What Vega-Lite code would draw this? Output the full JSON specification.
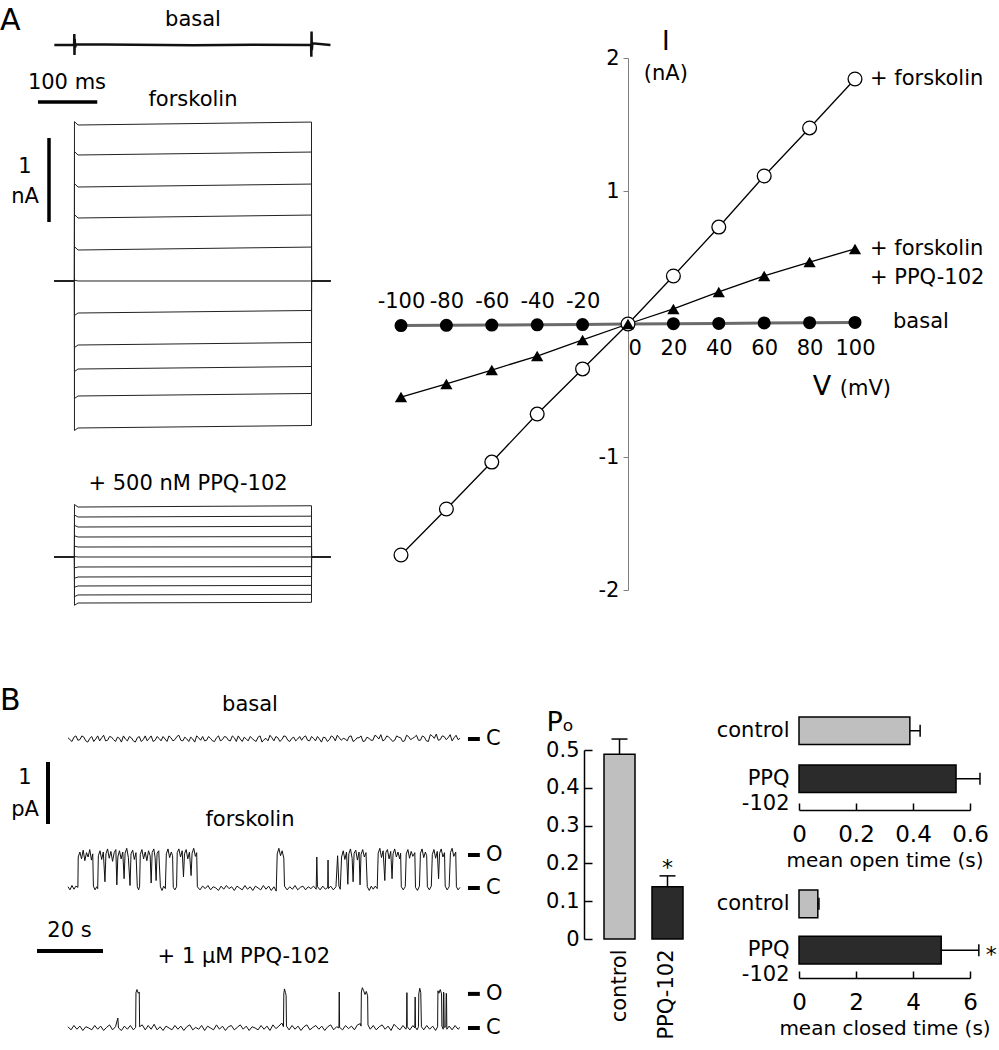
{
"$schema":"https://vega.github.io/schema/vega-lite/v6.json",
"padding":0,
"background":"white",
"spacing":65,
"config":{
 "view":{"stroke":null},
 "font":"DejaVu Sans",
 "text":{"fontSize":21,"color":"black"},
 "axis":{"labelFont":"DejaVu Sans","titleFont":"DejaVu Sans","labelColor":"black","titleColor":"black","titleFontWeight":"normal","labelFlush":false,"labelOverlap":false,"grid":false}
},
"datasets":{
 "iv":[
  {"s":"basal","v":-100,"i":-0.012},{"s":"basal","v":-80,"i":-0.01},{"s":"basal","v":-60,"i":-0.008},{"s":"basal","v":-40,"i":-0.006},{"s":"basal","v":-20,"i":-0.004},{"s":"basal","v":0,"i":0},{"s":"basal","v":20,"i":0.002},{"s":"basal","v":40,"i":0.004},{"s":"basal","v":60,"i":0.008},{"s":"basal","v":80,"i":0.01},{"s":"basal","v":100,"i":0.012},
  {"s":"forsk","v":-100,"i":-1.737},{"s":"forsk","v":-80,"i":-1.391},{"s":"forsk","v":-60,"i":-1.038},{"s":"forsk","v":-40,"i":-0.677},{"s":"forsk","v":-20,"i":-0.338},{"s":"forsk","v":0,"i":0},{"s":"forsk","v":20,"i":0.361},{"s":"forsk","v":40,"i":0.729},{"s":"forsk","v":60,"i":1.113},{"s":"forsk","v":80,"i":1.474},{"s":"forsk","v":100,"i":1.842},
  {"s":"ppq","v":-100,"i":-0.549},{"s":"ppq","v":-80,"i":-0.451},{"s":"ppq","v":-60,"i":-0.346},{"s":"ppq","v":-40,"i":-0.241},{"s":"ppq","v":-20,"i":-0.12},{"s":"ppq","v":0,"i":0},{"s":"ppq","v":20,"i":0.113},{"s":"ppq","v":40,"i":0.241},{"s":"ppq","v":60,"i":0.361},{"s":"ppq","v":80,"i":0.466},{"s":"ppq","v":100,"i":0.564}
 ],
 "aB":[
  {"t":-34,"i":0},{"t":-0.6,"i":0},{"t":-0.3,"i":0.13},{"t":0,"i":-0.12},{"t":0.4,"i":0.07},{"t":1,"i":-0.03},{"t":2.5,"i":0.01},{"t":100,"i":0.004},{"t":200,"i":-0.003},{"t":300,"i":0.004},{"t":399.4,"i":0},{"t":399.7,"i":-0.14},{"t":400.1,"i":0.16},{"t":400.5,"i":-0.06},{"t":401.5,"i":0.02},{"t":432,"i":0}
 ],
 "aF":[
  {"v":100,"t":-34,"i":0},{"v":100,"t":-0.1,"i":0},{"v":100,"t":0,"i":1.897},{"v":100,"t":6,"i":1.857},{"v":100,"t":400,"i":1.892},{"v":100,"t":400.1,"i":0},{"v":100,"t":432,"i":0},
  {"v":80,"t":-34,"i":0},{"v":80,"t":-0.1,"i":0},{"v":80,"t":0,"i":1.54},{"v":80,"t":6,"i":1.5},{"v":80,"t":400,"i":1.535},{"v":80,"t":400.1,"i":0},{"v":80,"t":432,"i":0},
  {"v":60,"t":-34,"i":0},{"v":60,"t":-0.1,"i":0},{"v":60,"t":0,"i":1.159},{"v":60,"t":6,"i":1.119},{"v":60,"t":400,"i":1.154},{"v":60,"t":400.1,"i":0},{"v":60,"t":432,"i":0},
  {"v":40,"t":-34,"i":0},{"v":40,"t":-0.1,"i":0},{"v":40,"t":0,"i":0.79},{"v":40,"t":6,"i":0.75},{"v":40,"t":400,"i":0.785},{"v":40,"t":400.1,"i":0},{"v":40,"t":432,"i":0},
  {"v":20,"t":-34,"i":0},{"v":20,"t":-0.1,"i":0},{"v":20,"t":0,"i":0.409},{"v":20,"t":6,"i":0.369},{"v":20,"t":400,"i":0.404},{"v":20,"t":400.1,"i":0},{"v":20,"t":432,"i":0},
  {"v":0,"t":-34,"i":0},{"v":0,"t":-0.1,"i":0},{"v":0,"t":0,"i":0.01},{"v":0,"t":6,"i":0},{"v":0,"t":400,"i":0},{"v":0,"t":400.1,"i":0},{"v":0,"t":432,"i":0},
  {"v":-20,"t":-34,"i":0},{"v":-20,"t":-0.1,"i":0},{"v":-20,"t":0,"i":-0.411},{"v":-20,"t":6,"i":-0.381},{"v":-20,"t":400,"i":-0.351},{"v":-20,"t":400.1,"i":0},{"v":-20,"t":432,"i":0},
  {"v":-40,"t":-34,"i":0},{"v":-40,"t":-0.1,"i":0},{"v":-40,"t":0,"i":-0.792},{"v":-40,"t":6,"i":-0.762},{"v":-40,"t":400,"i":-0.732},{"v":-40,"t":400.1,"i":0},{"v":-40,"t":432,"i":0},
  {"v":-60,"t":-34,"i":0},{"v":-60,"t":-0.1,"i":0},{"v":-60,"t":0,"i":-1.078},{"v":-60,"t":6,"i":-1.048},{"v":-60,"t":400,"i":-1.018},{"v":-60,"t":400.1,"i":0},{"v":-60,"t":432,"i":0},
  {"v":-80,"t":-34,"i":0},{"v":-80,"t":-0.1,"i":0},{"v":-80,"t":0,"i":-1.399},{"v":-80,"t":6,"i":-1.369},{"v":-80,"t":400,"i":-1.339},{"v":-80,"t":400.1,"i":0},{"v":-80,"t":432,"i":0},
  {"v":-100,"t":-34,"i":0},{"v":-100,"t":-0.1,"i":0},{"v":-100,"t":0,"i":-1.78},{"v":-100,"t":6,"i":-1.75},{"v":-100,"t":400,"i":-1.72},{"v":-100,"t":400.1,"i":0},{"v":-100,"t":432,"i":0}
 ],
 "aP":[
  {"v":100,"t":-34,"i":0},{"v":100,"t":-0.1,"i":0},{"v":100,"t":0,"i":0.625},{"v":100,"t":6,"i":0.595},{"v":100,"t":400,"i":0.61},{"v":100,"t":400.1,"i":0},{"v":100,"t":432,"i":0},
  {"v":80,"t":-34,"i":0},{"v":80,"t":-0.1,"i":0},{"v":80,"t":0,"i":0.5},{"v":80,"t":6,"i":0.476},{"v":80,"t":400,"i":0.486},{"v":80,"t":400.1,"i":0},{"v":80,"t":432,"i":0},
  {"v":60,"t":-34,"i":0},{"v":60,"t":-0.1,"i":0},{"v":60,"t":0,"i":0.377},{"v":60,"t":6,"i":0.357},{"v":60,"t":400,"i":0.365},{"v":60,"t":400.1,"i":0},{"v":60,"t":432,"i":0},
  {"v":40,"t":-34,"i":0},{"v":40,"t":-0.1,"i":0},{"v":40,"t":0,"i":0.253},{"v":40,"t":6,"i":0.238},{"v":40,"t":400,"i":0.243},{"v":40,"t":400.1,"i":0},{"v":40,"t":432,"i":0},
  {"v":20,"t":-34,"i":0},{"v":20,"t":-0.1,"i":0},{"v":20,"t":0,"i":0.129},{"v":20,"t":6,"i":0.119},{"v":20,"t":400,"i":0.122},{"v":20,"t":400.1,"i":0},{"v":20,"t":432,"i":0},
  {"v":0,"t":-34,"i":0},{"v":0,"t":-0.1,"i":0},{"v":0,"t":0,"i":0.005},{"v":0,"t":6,"i":0},{"v":0,"t":400,"i":0},{"v":0,"t":400.1,"i":0},{"v":0,"t":432,"i":0},
  {"v":-20,"t":-34,"i":0},{"v":-20,"t":-0.1,"i":0},{"v":-20,"t":0,"i":-0.129},{"v":-20,"t":6,"i":-0.119},{"v":-20,"t":400,"i":-0.115},{"v":-20,"t":400.1,"i":0},{"v":-20,"t":432,"i":0},
  {"v":-40,"t":-34,"i":0},{"v":-40,"t":-0.1,"i":0},{"v":-40,"t":0,"i":-0.253},{"v":-40,"t":6,"i":-0.238},{"v":-40,"t":400,"i":-0.232},{"v":-40,"t":400.1,"i":0},{"v":-40,"t":432,"i":0},
  {"v":-60,"t":-34,"i":0},{"v":-60,"t":-0.1,"i":0},{"v":-60,"t":0,"i":-0.36},{"v":-60,"t":6,"i":-0.345},{"v":-60,"t":400,"i":-0.338},{"v":-60,"t":400.1,"i":0},{"v":-60,"t":432,"i":0},
  {"v":-80,"t":-34,"i":0},{"v":-80,"t":-0.1,"i":0},{"v":-80,"t":0,"i":-0.472},{"v":-80,"t":6,"i":-0.452},{"v":-80,"t":400,"i":-0.445},{"v":-80,"t":400.1,"i":0},{"v":-80,"t":432,"i":0},
  {"v":-100,"t":-34,"i":0},{"v":-100,"t":-0.1,"i":0},{"v":-100,"t":0,"i":-0.575},{"v":-100,"t":6,"i":-0.548},{"v":-100,"t":400,"i":-0.54},{"v":-100,"t":400.1,"i":0},{"v":-100,"t":432,"i":0}
 ],
 "bB":[
  {"t":0,"i":0.02},{"t":1.2,"i":-0.04},{"t":2.4,"i":0.05},{"t":3.6,"i":-0.01},{"t":4.8,"i":0.03},{"t":6,"i":-0.05},{"t":7.2,"i":0.04},{"t":8.4,"i":0},{"t":9.6,"i":-0.03},{"t":10.8,"i":0.06},
  {"t":12,"i":-0.02},{"t":13.2,"i":0.03},{"t":14.4,"i":-0.04},{"t":15.6,"i":0.01},{"t":16.8,"i":0.05},{"t":18,"i":-0.03},{"t":19.2,"i":0.02},{"t":20.4,"i":-0.05},{"t":21.6,"i":0.04},{"t":22.8,"i":-0.01},
  {"t":24,"i":-0.03},{"t":25.2,"i":0.05},{"t":26.4,"i":-0.02},{"t":27.6,"i":0.01},{"t":28.8,"i":0.04},{"t":30,"i":-0.04},{"t":31.2,"i":0.02},{"t":32.4,"i":-0.01},{"t":33.6,"i":0.06},{"t":34.8,"i":-0.03},
  {"t":36,"i":0},{"t":37.2,"i":0.03},{"t":38.4,"i":-0.05},{"t":39.6,"i":0.02},{"t":40.8,"i":0.04},{"t":42,"i":-0.02},{"t":43.2,"i":0.01},{"t":44.4,"i":-0.04},{"t":45.6,"i":0.05},{"t":46.8,"i":-0.01},
  {"t":48,"i":0.03},{"t":49.2,"i":-0.03},{"t":50.4,"i":0.02},{"t":51.6,"i":0.05},{"t":52.8,"i":-0.04},{"t":54,"i":0},{"t":55.2,"i":0.04},{"t":56.4,"i":-0.02},{"t":57.6,"i":0.03},{"t":58.8,"i":-0.05},
  {"t":60,"i":0.01},{"t":61.2,"i":0.06},{"t":62.4,"i":-0.03},{"t":63.6,"i":0.02},{"t":64.8,"i":-0.01},{"t":66,"i":0.04},{"t":67.2,"i":-0.04},{"t":68.4,"i":0.03},{"t":69.6,"i":0},{"t":70.8,"i":-0.02},
  {"t":72,"i":0.05},{"t":73.2,"i":-0.03},{"t":74.4,"i":0.01},{"t":75.6,"i":0.04},{"t":76.8,"i":-0.05},{"t":78,"i":0.02},{"t":79.2,"i":-0.01},{"t":80.4,"i":0.03},{"t":81.6,"i":0.06},{"t":82.8,"i":-0.02},
  {"t":84,"i":0},{"t":85.2,"i":0.04},{"t":86.4,"i":-0.04},{"t":87.6,"i":0.02},{"t":88.8,"i":0.05},{"t":90,"i":-0.03},{"t":91.2,"i":0.01},{"t":92.4,"i":-0.02},{"t":93.6,"i":0.04},{"t":94.8,"i":0.07},
  {"t":96,"i":-0.01},{"t":97.2,"i":0.03},{"t":98.4,"i":-0.04},{"t":99.6,"i":0.05},{"t":100.8,"i":0.02},{"t":102,"i":-0.03},{"t":103.2,"i":0.04},{"t":104.4,"i":0.01},{"t":105.6,"i":0.06},{"t":106.8,"i":-0.02},
  {"t":108,"i":0.03},{"t":109.2,"i":-0.04},{"t":110.4,"i":0.05},{"t":111.6,"i":0.08},{"t":112.8,"i":-0.01},{"t":114,"i":0.04},{"t":115.2,"i":0.02},{"t":116.4,"i":-0.03},{"t":117.6,"i":0.06},{"t":118.8,"i":0.01},
  {"t":0.6,"i":-0.01},{"t":1.8,"i":0.03},{"t":3.0,"i":-0.02},{"t":4.2,"i":0.05},{"t":5.4,"i":-0.03},{"t":6.6,"i":0.01},{"t":7.8,"i":-0.04},{"t":9.0,"i":0.05},{"t":10.2,"i":0.02},{"t":11.4,"i":-0.03},
  {"t":12.6,"i":0.04},{"t":13.8,"i":-0.01},{"t":15.0,"i":0.03},{"t":16.2,"i":-0.05},{"t":17.4,"i":0},{"t":18.6,"i":0.04},{"t":19.8,"i":-0.03},{"t":21.0,"i":0.02},{"t":22.2,"i":-0.04},{"t":23.4,"i":0.05},
  {"t":24.6,"i":0.01},{"t":25.8,"i":-0.04},{"t":27.0,"i":0.04},{"t":28.2,"i":-0.03},{"t":29.4,"i":0},{"t":30.6,"i":0.05},{"t":31.8,"i":-0.03},{"t":33.0,"i":0.04},{"t":34.2,"i":-0.02},{"t":35.4,"i":0.03},
  {"t":36.6,"i":-0.04},{"t":37.8,"i":0},{"t":39.0,"i":0.05},{"t":40.2,"i":-0.02},{"t":41.4,"i":-0.03},{"t":42.6,"i":0.04},{"t":43.8,"i":-0.03},{"t":45.0,"i":0.02},{"t":46.2,"i":-0.03},{"t":47.4,"i":0.04},
  {"t":48.6,"i":-0.02},{"t":49.8,"i":0.05},{"t":51.0,"i":-0.04},{"t":52.2,"i":0},{"t":53.4,"i":0.03},{"t":54.6,"i":-0.03},{"t":55.8,"i":0.01},{"t":57.0,"i":-0.04},{"t":58.2,"i":0.05},{"t":59.4,"i":-0.01},
  {"t":60.6,"i":-0.03},{"t":61.8,"i":0.02},{"t":63.0,"i":0.04},{"t":64.2,"i":-0.04},{"t":65.4,"i":0.05},{"t":66.6,"i":-0.02},{"t":67.8,"i":0.01},{"t":69.0,"i":-0.03},{"t":70.2,"i":0.04},{"t":71.4,"i":0.03},
  {"t":72.6,"i":-0.02},{"t":73.8,"i":0.04},{"t":75.0,"i":-0.03},{"t":76.2,"i":0},{"t":77.4,"i":0.03},{"t":78.6,"i":-0.04},{"t":79.8,"i":0.05},{"t":81.0,"i":-0.03},{"t":82.2,"i":0.02},{"t":83.4,"i":0.01},
  {"t":84.6,"i":-0.03},{"t":85.8,"i":0.05},{"t":87.0,"i":-0.02},{"t":88.2,"i":0.02},{"t":89.4,"i":-0.04},{"t":90.6,"i":0.03},{"t":91.8,"i":-0.02},{"t":93.0,"i":0.06},{"t":94.2,"i":0},{"t":95.4,"i":-0.03},
  {"t":96.6,"i":0.05},{"t":97.8,"i":0},{"t":99.0,"i":-0.02},{"t":100.2,"i":0.03},{"t":101.4,"i":-0.04},{"t":102.6,"i":0.06},{"t":103.8,"i":-0.01},{"t":105.0,"i":0.03},{"t":106.2,"i":-0.02},{"t":107.4,"i":0.05},
  {"t":108.6,"i":-0.03},{"t":109.8,"i":0.07},{"t":111.0,"i":0.01},{"t":112.2,"i":-0.02},{"t":113.4,"i":0.05},{"t":114.6,"i":-0.01},{"t":115.8,"i":0.07},{"t":117.0,"i":0.02},{"t":118.2,"i":-0.01}
 ],
 "bF":[
  {"t":0,"i":0.02},{"t":0.6,"i":-0.03},{"t":1.2,"i":0.04},{"t":1.8,"i":-0.02},{"t":2.4,"i":0.03},{"t":3.0,"i":0.01},
  {"t":3.1,"i":0.5},{"t":3.6,"i":0.58},{"t":4.1,"i":0.47},{"t":4.6,"i":0.61},{"t":5.1,"i":0.44},{"t":5.6,"i":0.57},{"t":6.1,"i":0.5},{"t":6.6,"i":0.62},{"t":7.1,"i":0.45},{"t":7.5,"i":0.55},
  {"t":7.7,"i":0.03},{"t":8.2,"i":-0.03},{"t":8.7,"i":0.02},{"t":9.0,"i":-0.01},
  {"t":9.2,"i":0.52},{"t":9.7,"i":0.6},{"t":10.2,"i":0.46},{"t":10.7,"i":0.58},{"t":11.2,"i":0.1},{"t":11.5,"i":0.55},{"t":12.0,"i":0.63},{"t":12.5,"i":0.48},{"t":13.0,"i":0.59},{"t":13.5,"i":0.43},{"t":14.0,"i":0.57},{"t":14.5,"i":0.62},{"t":14.8,"i":0.05},{"t":15.1,"i":0.5},{"t":15.6,"i":0.6},{"t":16.1,"i":0.47},{"t":16.6,"i":0.58},{"t":17.0,"i":0.15},{"t":17.3,"i":0.56},{"t":17.8,"i":0.64},{"t":18.3,"i":0.49},{"t":18.8,"i":0.04},{"t":19.1,"i":0.55},{"t":19.6,"i":0.61},{"t":20.1,"i":0.46},{"t":20.6,"i":0.57},
  {"t":21.0,"i":0.02},{"t":21.4,"i":-0.03},{"t":21.7,"i":0.03},
  {"t":21.9,"i":0.54},{"t":22.4,"i":0.62},{"t":22.9,"i":0.47},{"t":23.4,"i":0.58},{"t":23.9,"i":0.44},{"t":24.4,"i":0.6},{"t":24.9,"i":0.52},{"t":25.2,"i":0.08},{"t":25.5,"i":0.57},{"t":26.0,"i":0.63},{"t":26.4,"i":0.49},{"t":26.7,"i":0.12},{"t":27.0,"i":0.56},{"t":27.5,"i":0.6},
  {"t":28.0,"i":0.02},{"t":28.5,"i":-0.04},{"t":29.0,"i":0.03},{"t":29.5,"i":-0.01},
  {"t":29.8,"i":0.55},{"t":30.3,"i":0.63},{"t":30.8,"i":0.49},{"t":31.3,"i":0.58},{"t":31.7,"i":0.52},
  {"t":31.9,"i":0.01},{"t":32.4,"i":-0.03},{"t":32.9,"i":0.02},
  {"t":33.1,"i":0.57},{"t":33.6,"i":0.63},{"t":34.1,"i":0.5},{"t":34.6,"i":0.6},{"t":35.0,"i":0.18},{"t":35.3,"i":0.55},{"t":35.8,"i":0.62},{"t":36.3,"i":0.47},{"t":36.8,"i":0.58},{"t":37.3,"i":0.2},{"t":37.6,"i":0.56},{"t":38.1,"i":0.64},{"t":38.6,"i":0.51},{"t":39.0,"i":0.57},
  {"t":39.2,"i":0.02},{"t":40.0,"i":-0.03},{"t":40.8,"i":0.03},{"t":41.6,"i":-0.01},{"t":42.4,"i":0.04},{"t":43.2,"i":-0.03},{"t":44.0,"i":0.02},{"t":44.8,"i":0},{"t":45.6,"i":-0.04},{"t":46.4,"i":0.03},{"t":47.2,"i":-0.02},{"t":48.0,"i":0.04},{"t":48.8,"i":-0.01},{"t":49.6,"i":0.02},{"t":50.4,"i":-0.04},{"t":51.2,"i":0.03},{"t":52.0,"i":0},{"t":52.8,"i":-0.03},{"t":53.6,"i":0.04},{"t":54.4,"i":-0.02},{"t":55.2,"i":0.02},{"t":56.0,"i":-0.04},{"t":56.8,"i":0.03},{"t":57.6,"i":0},{"t":58.4,"i":-0.03},{"t":59.2,"i":0.04},{"t":60.0,"i":-0.02},{"t":60.8,"i":0.03},{"t":61.6,"i":-0.04},{"t":62.4,"i":0.02},{"t":63.1,"i":-0.05},
  {"t":63.4,"i":0.55},{"t":63.9,"i":0.64},{"t":64.4,"i":0.52},{"t":64.9,"i":0.6},{"t":65.4,"i":0.48},
  {"t":65.6,"i":0.03},{"t":66.4,"i":-0.03},{"t":67.2,"i":0.02},{"t":68.0,"i":-0.02},{"t":68.8,"i":0.04},{"t":69.6,"i":-0.03},{"t":70.4,"i":0.01},{"t":71.2,"i":0.03},{"t":72.0,"i":-0.03},{"t":72.8,"i":0.02},{"t":73.6,"i":-0.01},{"t":74.4,"i":0.03},{"t":75.2,"i":-0.02},{"t":75.4,"i":0.5},{"t":75.6,"i":0.02},{"t":76.4,"i":-0.03},{"t":77.2,"i":0.03},{"t":78.0,"i":-0.02},{"t":78.7,"i":0.01},{"t":78.8,"i":0.45},{"t":78.9,"i":-0.01},{"t":79.6,"i":0.03},{"t":80.4,"i":-0.03},{"t":81.2,"i":0.02},{"t":81.7,"i":0.52},{"t":82.1,"i":0.03},{"t":82.5,"i":-0.02},
  {"t":82.9,"i":0.5},{"t":83.4,"i":0.6},{"t":83.9,"i":0.46},{"t":84.4,"i":0.58},{"t":84.8,"i":0.06},{"t":85.1,"i":0.55},{"t":85.6,"i":0.63},{"t":86.1,"i":0.48},{"t":86.4,"i":0.1},{"t":86.7,"i":0.56},{"t":87.2,"i":0.61},{"t":87.7,"i":0.45},{"t":88.2,"i":0.58},{"t":88.5,"i":0.05},{"t":88.8,"i":0.54},{"t":89.3,"i":0.62},{"t":89.8,"i":0.5},{"t":90.3,"i":0.57},
  {"t":90.7,"i":0.02},{"t":91.3,"i":-0.04},{"t":91.9,"i":0.03},{"t":92.5,"i":-0.02},{"t":93.1,"i":0.03},{"t":93.7,"i":-0.01},
  {"t":94.0,"i":0.56},{"t":94.5,"i":0.64},{"t":95.0,"i":0.49},{"t":95.5,"i":0.6},{"t":96.0,"i":0.12},{"t":96.3,"i":0.57},{"t":96.8,"i":0.62},{"t":97.3,"i":0.47},{"t":97.8,"i":0.59},{"t":98.2,"i":0.15},{"t":98.5,"i":0.55},{"t":99.0,"i":0.63},{"t":99.5,"i":0.5},{"t":100.0,"i":0.58},{"t":100.5,"i":0.47},{"t":100.8,"i":0.56},
  {"t":101.0,"i":0.02},{"t":101.6,"i":-0.03},{"t":102.2,"i":0.02},
  {"t":102.5,"i":0.55},{"t":103.0,"i":0.62},{"t":103.5,"i":0.48},{"t":104.0,"i":0.59},{"t":104.5,"i":0.51},{"t":105.1,"i":0.57},
  {"t":105.3,"i":0.01},{"t":105.9,"i":-0.04},{"t":106.5,"i":0.03},
  {"t":106.8,"i":0.56},{"t":107.3,"i":0.63},{"t":107.8,"i":0.49},{"t":108.3,"i":0.58},{"t":108.7,"i":0.52},
  {"t":108.9,"i":0.02},{"t":109.5,"i":-0.03},{"t":110.1,"i":0.03},
  {"t":110.4,"i":0.54},{"t":110.9,"i":0.62},{"t":111.4,"i":0.48},{"t":111.9,"i":0.59},{"t":112.3,"i":0.15},{"t":112.6,"i":0.56},{"t":113.1,"i":0.63},{"t":113.6,"i":0.5},{"t":114.1,"i":0.57},
  {"t":114.3,"i":0.03},{"t":114.9,"i":-0.03},{"t":115.5,"i":0.02},
  {"t":115.9,"i":0.57},{"t":116.4,"i":0.64},{"t":116.9,"i":0.51},{"t":117.5,"i":0.58},
  {"t":117.7,"i":0.02},{"t":118.2,"i":-0.03},{"t":118.8,"i":0.01}
 ],
 "bP":[
  {"t":0,"i":0.02},{"t":0.9,"i":-0.03},{"t":1.8,"i":0.04},{"t":2.7,"i":-0.02},{"t":3.6,"i":0.03},{"t":4.5,"i":-0.04},{"t":5.4,"i":0.02},{"t":6.3,"i":0},{"t":7.2,"i":-0.03},{"t":8.1,"i":0.04},{"t":9.0,"i":-0.02},{"t":9.9,"i":0.03},{"t":10.8,"i":-0.04},{"t":11.7,"i":0.01},{"t":12.6,"i":0.05},{"t":13.5,"i":-0.03},{"t":14.4,"i":0.02},{"t":15.1,"i":0.16},{"t":15.3,"i":0},{"t":16.2,"i":-0.04},{"t":17.1,"i":0.03},{"t":18.0,"i":-0.02},{"t":18.9,"i":0.04},{"t":19.8,"i":-0.03},{"t":20.5,"i":0.01},
  {"t":20.6,"i":0.57},{"t":20.9,"i":0.62},{"t":21.3,"i":0.56},{"t":21.6,"i":0.58},{"t":21.7,"i":0.02},
  {"t":22.5,"i":0.05},{"t":23.4,"i":-0.03},{"t":24.3,"i":0.04},{"t":25.2,"i":-0.02},{"t":26.1,"i":0.06},{"t":27.0,"i":-0.03},{"t":27.9,"i":0.02},{"t":28.8,"i":-0.04},{"t":29.7,"i":0.03},{"t":30.6,"i":0},{"t":31.5,"i":-0.03},{"t":32.4,"i":0.04},{"t":33.3,"i":-0.02},{"t":34.2,"i":0.03},{"t":35.1,"i":-0.04},{"t":36.0,"i":0.02},{"t":36.9,"i":0.05},{"t":37.8,"i":-0.03},{"t":38.7,"i":0.01},{"t":39.6,"i":-0.02},{"t":40.5,"i":0.04},{"t":41.4,"i":-0.04},{"t":42.3,"i":0.03},{"t":43.2,"i":0},{"t":44.1,"i":-0.03},{"t":45.0,"i":0.05},{"t":45.9,"i":-0.02},{"t":46.8,"i":0.03},{"t":47.7,"i":-0.04},{"t":48.6,"i":0.02},{"t":49.5,"i":0.04},{"t":50.4,"i":-0.03},{"t":51.3,"i":0.01},{"t":52.2,"i":0.05},{"t":53.1,"i":-0.02},{"t":54.0,"i":0.03},{"t":54.9,"i":-0.04},{"t":55.8,"i":0.02},{"t":56.7,"i":0},{"t":57.6,"i":-0.03},{"t":58.5,"i":0.04},{"t":59.4,"i":-0.02},{"t":60.3,"i":0.03},{"t":61.2,"i":-0.04},{"t":62.1,"i":0.05},{"t":63.0,"i":-0.01},{"t":63.9,"i":0.03},{"t":64.8,"i":0.08},{"t":65.3,"i":0.02},
  {"t":65.4,"i":0.55},{"t":65.6,"i":0.63},{"t":65.9,"i":0.57},{"t":66.1,"i":0.52},{"t":66.2,"i":0.03},
  {"t":67.0,"i":-0.03},{"t":67.9,"i":0.04},{"t":68.8,"i":-0.02},{"t":69.7,"i":0.03},{"t":70.6,"i":-0.04},{"t":71.5,"i":0.02},{"t":72.4,"i":0.05},{"t":73.3,"i":-0.03},{"t":74.2,"i":0.01},{"t":75.1,"i":0.04},{"t":76.0,"i":-0.02},{"t":76.9,"i":0.03},{"t":77.8,"i":-0.04},{"t":78.7,"i":0.02},{"t":79.6,"i":0.05},{"t":80.5,"i":-0.03},{"t":81.4,"i":0.02},{"t":82.1,"i":0},{"t":82.2,"i":0.58},{"t":82.3,"i":0.01},{"t":83.2,"i":-0.03},{"t":84.1,"i":0.04},{"t":85.0,"i":-0.01},{"t":85.9,"i":0.03},{"t":86.8,"i":-0.03},{"t":87.7,"i":0.05},{"t":88.6,"i":0.07},{"t":88.8,"i":0.03},
  {"t":88.9,"i":0.58},{"t":89.2,"i":0.65},{"t":89.6,"i":0.6},{"t":90.0,"i":0.54},{"t":90.4,"i":0.59},{"t":90.8,"i":0.52},{"t":90.9,"i":0.05},
  {"t":91.6,"i":-0.02},{"t":92.5,"i":0.04},{"t":93.4,"i":-0.03},{"t":94.3,"i":0.02},{"t":95.2,"i":0.05},{"t":96.1,"i":-0.02},{"t":97.0,"i":0.03},{"t":97.9,"i":-0.04},{"t":98.8,"i":0.06},{"t":99.7,"i":0.01},{"t":100.6,"i":-0.03},{"t":101.5,"i":0.04},{"t":102.4,"i":-0.02},{"t":102.6,"i":0.03},{"t":102.7,"i":0.57},{"t":102.8,"i":0.02},{"t":103.6,"i":-0.03},{"t":104.5,"i":0.04},{"t":105.1,"i":0},{"t":105.2,"i":0.5},{"t":105.3,"i":0.01},{"t":105.8,"i":-0.03},{"t":106.2,"i":0.02},
  {"t":106.3,"i":0.55},{"t":106.6,"i":0.64},{"t":106.9,"i":0.57},{"t":107.1,"i":0.02},
  {"t":107.8,"i":-0.03},{"t":108.7,"i":0.04},{"t":109.6,"i":-0.02},{"t":110.5,"i":0.03},{"t":111.4,"i":-0.04},{"t":112.0,"i":0.02},
  {"t":112.1,"i":0.6},{"t":112.4,"i":0.56},{"t":112.8,"i":0.62},{"t":113.2,"i":0.55},{"t":113.3,"i":0.03},{"t":113.7,"i":-0.02},{"t":113.8,"i":0.58},{"t":113.9,"i":0.56},{"t":114.0,"i":0.01},{"t":114.5,"i":0.02},{"t":114.6,"i":0.56},{"t":114.7,"i":0.55},{"t":114.8,"i":-0.02},{"t":115.5,"i":0.03},{"t":116.4,"i":-0.03},{"t":117.3,"i":0.04},{"t":118.2,"i":-0.02},{"t":118.8,"i":0.01}
 ],
 "states":[
  {"tr":"b","st":"C","lev":0},
  {"tr":"f","st":"O","lev":0.532},{"tr":"f","st":"C","lev":0},
  {"tr":"p","st":"O","lev":0.55},{"tr":"p","st":"C","lev":0}
 ],
 "po":[{"g":"control","m":0.489,"hi":0.529,"sig":""},{"g":"PPQ-102","m":0.138,"hi":0.167,"sig":"*"}],
 "open":[{"g":"control","m":0.389,"hi":0.425},{"g":"PPQ-102","m":0.551,"hi":0.635}],
 "closed":[{"g":"control","m":0.66,"hi":0.7,"sig":""},{"g":"PPQ-102","m":4.99,"hi":6.31,"sig":"*"}]
},
"vconcat":[
 {"hconcat":[
  {"vconcat":[
   {"width":340,"height":90,"layer":[
    {"data":{"name":"aB"},"mark":{"type":"line","stroke":"#111","strokeWidth":2.5},
     "encoding":{"x":{"field":"t","type":"quantitative","scale":{"domain":[-125.7,448.1],"nice":false,"zero":false},"axis":null},
                 "y":{"field":"i","type":"quantitative","scale":{"domain":[-0.5357,0.5357],"nice":false,"zero":false},"axis":null}}},
    {"data":{"values":[{}]},"mark":{"type":"text","text":"A","fontSize":30,"align":"left","baseline":"alphabetic"},
     "encoding":{"x":{"datum":-125.7,"type":"quantitative","axis":null},"y":{"datum":0.179,"type":"quantitative","axis":null}}},
    {"data":{"values":[{}]},"mark":{"type":"text","text":"basal","fontSize":21},
     "encoding":{"x":{"datum":200,"type":"quantitative","axis":null},"y":{"datum":0.298,"type":"quantitative","axis":null}}},
    {"data":{"values":[{}]},"mark":{"type":"text","text":"100 ms","fontSize":21},
     "encoding":{"x":{"datum":-12.7,"type":"quantitative","axis":null},"y":{"datum":-0.452,"type":"quantitative","axis":null}}}
   ]},
   {"width":340,"height":355,"layer":[
    {"data":{"name":"aF"},"mark":{"type":"line","stroke":"#222","strokeWidth":1},
     "encoding":{"x":{"field":"t","type":"quantitative","scale":{"domain":[-125.7,448.1],"nice":false,"zero":false},"axis":null},
                 "y":{"field":"i","type":"quantitative","scale":{"domain":[-1.9524,2.2738],"nice":false,"zero":false},"axis":null},
                 "detail":{"field":"v","type":"nominal"}}},
    {"data":{"values":[{}]},"mark":{"type":"rule","strokeWidth":3.5,"color":"black"},
     "encoding":{"x":{"datum":-61.6,"type":"quantitative","axis":null},"x2":{"datum":38.4},"y":{"datum":2.131,"type":"quantitative","axis":null}}},
    {"data":{"values":[{}]},"mark":{"type":"rule","strokeWidth":3.5,"color":"black"},
     "encoding":{"x":{"datum":-43,"type":"quantitative","axis":null},"y":{"datum":1.702,"type":"quantitative","axis":null},"y2":{"datum":0.702}}},
    {"data":{"values":[{}]},"mark":{"type":"text","text":"forskolin","fontSize":21},
     "encoding":{"x":{"datum":200,"type":"quantitative","axis":null},"y":{"datum":2.155,"type":"quantitative","axis":null}}},
    {"data":{"values":[{}]},"mark":{"type":"text","text":"1","fontSize":21},
     "encoding":{"x":{"datum":-83.5,"type":"quantitative","axis":null},"y":{"datum":1.357,"type":"quantitative","axis":null}}},
    {"data":{"values":[{}]},"mark":{"type":"text","text":"nA","fontSize":21},
     "encoding":{"x":{"datum":-83.5,"type":"quantitative","axis":null},"y":{"datum":1.0,"type":"quantitative","axis":null}}}
   ]},
   {"width":340,"height":170,"layer":[
    {"data":{"name":"aP"},"mark":{"type":"line","stroke":"#222","strokeWidth":1},
     "encoding":{"x":{"field":"t","type":"quantitative","scale":{"domain":[-125.7,448.1],"nice":false,"zero":false},"axis":null},
                 "y":{"field":"i","type":"quantitative","scale":{"domain":[-0.6905,1.3333],"nice":false,"zero":false},"axis":null},
                 "detail":{"field":"v","type":"nominal"}}},
    {"data":{"values":[{}]},"mark":{"type":"text","text":"+ 500 nM PPQ-102","fontSize":21},
     "encoding":{"x":{"datum":191.6,"type":"quantitative","axis":null},"y":{"datum":0.869,"type":"quantitative","axis":null}}}
   ]}
  ],"spacing":0,"bounds":"flush"},
  {"width":639,"height":615,
   "resolve":{"axis":{"x":"independent","y":"independent"}},
   "layer":[
    {"data":{"name":"iv"},"transform":[{"filter":"datum.s==='basal'"}],"mark":{"type":"line","stroke":"#6a6a6a","strokeWidth":3},
     "encoding":{
      "x":{"field":"v","type":"quantitative","scale":{"domain":[-118.06,163.44],"nice":false,"zero":false},
           "axis":{"orient":"bottom","offset":-291,"values":[0,20,40,60,80,100],"domain":false,"ticks":false,"labelFontSize":21,"labelPadding":13,"title":null,
                   "labelAlign":{"condition":{"test":"datum.value===0","value":"left"},"value":"center"}}},
      "y":{"field":"i","type":"quantitative","scale":{"domain":[-2,2],"range":[590,58],"nice":false,"zero":false},
           "axis":{"orient":"left","offset":-268,"values":[-2,-1,1,2],"domainColor":"#808080","tickColor":"#808080","tickSize":5,"labelFontSize":21,"labelPadding":4,"labelExpr":"''+datum.value","title":null}}}},
    {"data":{"name":"iv"},"transform":[{"filter":"datum.s==='basal'"}],"mark":{"type":"point","shape":"circle","size":170,"filled":true,"color":"black","opacity":1},
     "encoding":{
      "x":{"field":"v","type":"quantitative","axis":{"orient":"top","offset":-324,"values":[-100,-80,-60,-40,-20],"domain":false,"ticks":false,"labelFontSize":21,"labelPadding":13,"labelExpr":"''+datum.value","title":null}},
      "y":{"field":"i","type":"quantitative","axis":null}}},
    {"data":{"name":"iv"},"transform":[{"filter":"datum.s==='forsk'"}],"mark":{"type":"line","stroke":"black","strokeWidth":1.3},
     "encoding":{"x":{"field":"v","type":"quantitative","axis":null},"y":{"field":"i","type":"quantitative","axis":null}}},
    {"data":{"name":"iv"},"transform":[{"filter":"datum.s==='ppq'"}],"mark":{"type":"line","stroke":"black","strokeWidth":1.3},
     "encoding":{"x":{"field":"v","type":"quantitative","axis":null},"y":{"field":"i","type":"quantitative","axis":null}}},
    {"data":{"name":"iv"},"transform":[{"filter":"datum.s==='forsk'"}],"mark":{"type":"point","shape":"circle","size":190,"filled":true,"fill":"white","stroke":"black","strokeWidth":1.3,"opacity":1},
     "encoding":{"x":{"field":"v","type":"quantitative","axis":null},"y":{"field":"i","type":"quantitative","axis":null}}},
    {"data":{"name":"iv"},"transform":[{"filter":"datum.s==='ppq'"}],"mark":{"type":"point","shape":"triangle-up","size":150,"filled":true,"color":"black","opacity":1},
     "encoding":{"x":{"field":"v","type":"quantitative","axis":null},"y":{"field":"i","type":"quantitative","axis":null}}},
    {"data":{"name":"iv"},"transform":[{"filter":"datum.s==='forsk' && datum.v===100"}],"mark":{"type":"text","text":"+ forskolin","align":"left","baseline":"middle","dx":15,"fontSize":21},
     "encoding":{"x":{"field":"v","type":"quantitative","axis":null},"y":{"field":"i","type":"quantitative","axis":null}}},
    {"data":{"name":"iv"},"transform":[{"filter":"datum.s==='ppq' && datum.v===100"}],"mark":{"type":"text","text":["+ forskolin","+ PPQ-102"],"lineHeight":29,"align":"left","baseline":"middle","dx":15,"fontSize":21},
     "encoding":{"x":{"field":"v","type":"quantitative","axis":null},"y":{"field":"i","type":"quantitative","axis":null}}},
    {"data":{"name":"iv"},"transform":[{"filter":"datum.s==='basal' && datum.v===100"}],"mark":{"type":"text","text":"basal","align":"left","baseline":"middle","dx":38,"fontSize":21},
     "encoding":{"x":{"field":"v","type":"quantitative","axis":null},"y":{"field":"i","type":"quantitative","axis":null}}},
    {"data":{"values":[{}]},"mark":{"type":"text","text":"I","fontSize":26,"baseline":"alphabetic"},
     "encoding":{"x":{"datum":16.7,"type":"quantitative","axis":null},"y":{"datum":2.06,"type":"quantitative","axis":null}}},
    {"data":{"values":[{}]},"mark":{"type":"text","text":"(nA)","fontSize":21,"baseline":"alphabetic"},
     "encoding":{"x":{"datum":16.7,"type":"quantitative","axis":null},"y":{"datum":1.835,"type":"quantitative","axis":null}}},
    {"data":{"values":[{}]},"mark":{"type":"text","text":"V","fontSize":27,"baseline":"alphabetic"},
     "encoding":{"x":{"datum":85.5,"type":"quantitative","axis":null},"y":{"datum":-0.534,"type":"quantitative","axis":null}}},
    {"data":{"values":[{}]},"mark":{"type":"text","text":"(mV)","fontSize":21,"baseline":"alphabetic"},
     "encoding":{"x":{"datum":104.6,"type":"quantitative","axis":null},"y":{"datum":-0.534,"type":"quantitative","axis":null}}}
   ]}
 ],"spacing":20},
 {"hconcat":[
  {"vconcat":[
   {"width":510,"height":75,"layer":[
    {"data":{"name":"bB"},"mark":{"type":"line","stroke":"#111","strokeWidth":1},
     "encoding":{"x":{"field":"t","type":"quantitative","scale":{"domain":[-20.606,133.94],"nice":false,"zero":false},"axis":null},
                 "y":{"field":"i","type":"quantitative","scale":{"domain":[-0.258,0.952],"nice":false,"zero":false},"axis":null}}},
    {"data":{"name":"states"},"transform":[{"filter":"datum.tr==='b'"}],"mark":{"type":"rule","strokeWidth":4,"color":"black"},
     "encoding":{"x":{"datum":121.2,"type":"quantitative","axis":null},"x2":{"datum":124.8},"y":{"field":"lev","type":"quantitative","axis":null}}},
    {"data":{"name":"states"},"transform":[{"filter":"datum.tr==='b'"}],"mark":{"type":"text","align":"left","baseline":"middle","fontSize":21},
     "encoding":{"x":{"datum":126.7,"type":"quantitative","axis":null},"y":{"field":"lev","type":"quantitative","axis":null},"text":{"field":"st"}}},
    {"data":{"values":[{}]},"mark":{"type":"text","text":"B","fontSize":30,"align":"left","baseline":"alphabetic"},
     "encoding":{"x":{"datum":-20.606,"type":"quantitative","axis":null},"y":{"datum":0.468,"type":"quantitative","axis":null}}},
    {"data":{"values":[{}]},"mark":{"type":"text","text":"basal","fontSize":21},
     "encoding":{"x":{"datum":55.15,"type":"quantitative","axis":null},"y":{"datum":0.548,"type":"quantitative","axis":null}}}
   ]},
   {"width":510,"height":155,"layer":[
    {"data":{"name":"bF"},"mark":{"type":"line","stroke":"#111","strokeWidth":1},
     "encoding":{"x":{"field":"t","type":"quantitative","scale":{"domain":[-20.606,133.94],"nice":false,"zero":false},"axis":null},
                 "y":{"field":"i","type":"quantitative","scale":{"domain":[-0.355,2.145],"nice":false,"zero":false},"axis":null}}},
    {"data":{"name":"states"},"transform":[{"filter":"datum.tr==='f'"}],"mark":{"type":"rule","strokeWidth":4,"color":"black"},
     "encoding":{"x":{"datum":121.2,"type":"quantitative","axis":null},"x2":{"datum":124.8},"y":{"field":"lev","type":"quantitative","axis":null}}},
    {"data":{"name":"states"},"transform":[{"filter":"datum.tr==='f'"}],"mark":{"type":"text","align":"left","baseline":"middle","fontSize":21},
     "encoding":{"x":{"datum":126.7,"type":"quantitative","axis":null},"y":{"field":"lev","type":"quantitative","axis":null},"text":{"field":"st"}}},
    {"data":{"values":[{}]},"mark":{"type":"rule","strokeWidth":4,"color":"black"},
     "encoding":{"x":{"datum":-6.06,"type":"quantitative","axis":null},"y":{"datum":2.032,"type":"quantitative","axis":null},"y2":{"datum":1.032}}},
    {"data":{"values":[{}]},"mark":{"type":"text","text":"1","fontSize":21},
     "encoding":{"x":{"datum":-13.03,"type":"quantitative","axis":null},"y":{"datum":1.774,"type":"quantitative","axis":null}}},
    {"data":{"values":[{}]},"mark":{"type":"text","text":"pA","fontSize":21},
     "encoding":{"x":{"datum":-13.03,"type":"quantitative","axis":null},"y":{"datum":1.258,"type":"quantitative","axis":null}}},
    {"data":{"values":[{}]},"mark":{"type":"text","text":"forskolin","fontSize":21},
     "encoding":{"x":{"datum":55.15,"type":"quantitative","axis":null},"y":{"datum":1.097,"type":"quantitative","axis":null}}}
   ]},
   {"width":510,"height":140,"layer":[
    {"data":{"name":"bP"},"mark":{"type":"line","stroke":"#111","strokeWidth":1},
     "encoding":{"x":{"field":"t","type":"quantitative","scale":{"domain":[-20.606,133.94],"nice":false,"zero":false},"axis":null},
                 "y":{"field":"i","type":"quantitative","scale":{"domain":[-0.355,1.903],"nice":false,"zero":false},"axis":null}}},
    {"data":{"name":"states"},"transform":[{"filter":"datum.tr==='p'"}],"mark":{"type":"rule","strokeWidth":4,"color":"black"},
     "encoding":{"x":{"datum":121.2,"type":"quantitative","axis":null},"x2":{"datum":124.8},"y":{"field":"lev","type":"quantitative","axis":null}}},
    {"data":{"name":"states"},"transform":[{"filter":"datum.tr==='p'"}],"mark":{"type":"text","align":"left","baseline":"middle","fontSize":21},
     "encoding":{"x":{"datum":126.7,"type":"quantitative","axis":null},"y":{"field":"lev","type":"quantitative","axis":null},"text":{"field":"st"}}},
    {"data":{"values":[{}]},"mark":{"type":"rule","strokeWidth":4,"color":"black"},
     "encoding":{"x":{"datum":-9.39,"type":"quantitative","axis":null},"x2":{"datum":10.61},"y":{"datum":1.242,"type":"quantitative","axis":null}}},
    {"data":{"values":[{}]},"mark":{"type":"text","text":"20 s","fontSize":21},
     "encoding":{"x":{"datum":0.45,"type":"quantitative","axis":null},"y":{"datum":1.565,"type":"quantitative","axis":null}}},
    {"data":{"values":[{}]},"mark":{"type":"text","text":"+ 1 µM PPQ-102","fontSize":21},
     "encoding":{"x":{"datum":53.3,"type":"quantitative","axis":null},"y":{"datum":1.145,"type":"quantitative","axis":null}}}
   ]}
  ],"spacing":0,"bounds":"flush"},
  {"hconcat":[
   {"width":119,"height":259,"data":{"name":"po"},
    "encoding":{"x":{"field":"g","type":"nominal","sort":["control","PPQ-102"],"scale":{"paddingInner":0.354,"paddingOuter":0.417},
       "axis":{"labelAngle":270,"labelAlign":"right","labelBaseline":"middle","labelFontSize":21,"labelPadding":10,"domain":false,"ticks":false,"title":null}}},
    "layer":[
     {"mark":{"type":"bar","stroke":"black","strokeWidth":1.5},
      "encoding":{"y":{"field":"m","type":"quantitative","scale":{"domain":[0,0.5],"range":[259,70],"nice":false,"zero":true},
         "axis":{"values":[0,0.1,0.2,0.3,0.4,0.5],"format":".1~f","domainColor":"black","domainWidth":1.5,"tickColor":"black","tickWidth":1.5,"tickSize":-8,"labelPadding":13,"labelFontSize":21,
                 "title":"Pₒ","titleAngle":0,"titleFontSize":27,"titleAlign":"left","titleBaseline":"alphabetic","titleX":-38,"titleY":50}},
       "color":{"field":"g","type":"nominal","scale":{"domain":["control","PPQ-102"],"range":["#bfbfbf","#2b2b2b"]},"legend":null}}},
     {"mark":{"type":"rule","strokeWidth":1.5,"color":"black"},"encoding":{"y":{"field":"m","type":"quantitative"},"y2":{"field":"hi"}}},
     {"mark":{"type":"tick","thickness":1.5,"size":16,"color":"black","orient":"horizontal","opacity":1},"encoding":{"y":{"field":"hi","type":"quantitative"}}},
     {"mark":{"type":"text","baseline":"alphabetic","fontSize":22,"dy":-1},"encoding":{"y":{"field":"hi","type":"quantitative"},"text":{"field":"sig"}}}
    ]},
   {"vconcat":[
    {"width":171,"height":130,"data":{"name":"open"},
     "encoding":{"y":{"field":"g","type":"nominal","sort":["control","PPQ-102"],"scale":{"paddingInner":0.427,"paddingOuter":0.5675,"align":0.679},
        "axis":{"labelExpr":"datum.value==='PPQ-102'?['PPQ','-102']:datum.value","labelFontSize":21,"labelLineHeight":25,"labelPadding":10,"domain":false,"ticks":false,"title":null}}},
     "layer":[
      {"mark":{"type":"bar","stroke":"black","strokeWidth":1.5},
       "encoding":{"x":{"field":"m","type":"quantitative","scale":{"domain":[0,0.6],"nice":false},
          "axis":{"values":[0,0.2,0.4,0.6],"format":".1~f","domainColor":"black","domainWidth":1.5,"tickColor":"black","tickWidth":1.5,"tickSize":-7,"labelPadding":20,"labelFontSize":23,"title":"mean open time (s)","titleFontSize":20,"titlePadding":4}},
        "color":{"field":"g","type":"nominal","scale":{"domain":["control","PPQ-102"],"range":["#bfbfbf","#2b2b2b"]},"legend":null}}},
      {"mark":{"type":"rule","strokeWidth":1.5,"color":"black"},"encoding":{"x":{"field":"m","type":"quantitative"},"x2":{"field":"hi"}}},
      {"mark":{"type":"tick","thickness":1.5,"size":12,"color":"black","orient":"vertical","opacity":1},"encoding":{"x":{"field":"hi","type":"quantitative"}}}
     ]},
    {"width":171,"height":102,"data":{"name":"closed"},
     "encoding":{"y":{"field":"g","type":"nominal","sort":["control","PPQ-102"],"scale":{"paddingInner":0.4,"paddingOuter":0.3},
        "axis":{"labelExpr":"datum.value==='PPQ-102'?['PPQ','-102']:datum.value","labelFontSize":21,"labelLineHeight":25,"labelPadding":10,"domain":false,"ticks":false,"title":null}}},
     "layer":[
      {"mark":{"type":"bar","stroke":"black","strokeWidth":1.5},
       "encoding":{"x":{"field":"m","type":"quantitative","scale":{"domain":[0,6],"nice":false},
          "axis":{"values":[0,2,4,6],"format":".1~f","domainColor":"black","domainWidth":1.5,"tickColor":"black","tickWidth":1.5,"tickSize":-7,"labelPadding":20,"labelFontSize":23,"title":"mean closed time (s)","titleFontSize":20,"titlePadding":4}},
        "color":{"field":"g","type":"nominal","scale":{"domain":["control","PPQ-102"],"range":["#bfbfbf","#2b2b2b"]},"legend":null}}},
      {"mark":{"type":"rule","strokeWidth":1.5,"color":"black"},"encoding":{"x":{"field":"m","type":"quantitative"},"x2":{"field":"hi"}}},
      {"mark":{"type":"tick","thickness":1.5,"size":12,"color":"black","orient":"vertical","opacity":1},"encoding":{"x":{"field":"hi","type":"quantitative"}}},
      {"mark":{"type":"text","align":"left","baseline":"alphabetic","dx":7,"dy":12,"fontSize":22},"encoding":{"x":{"field":"hi","type":"quantitative"},"text":{"field":"sig"}}}
     ]}
   ],"spacing":66,"bounds":"flush"}
  ],"spacing":13}
 ],"spacing":35}
]
}
